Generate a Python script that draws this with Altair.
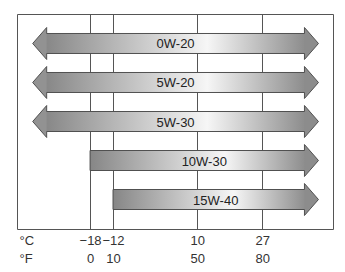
import altair as alt
import pandas as pd

# Data
oils = ["0W-20", "5W-20", "5W-30", "10W-30", "15W-40"]
low_c = [-33, -33, -33, -18, -12]        # left end of each range (°C)
high_c = [41.7, 41.7, 41.7, 41.7, 41.7]  # right end of each range (°C)
left_open = [True, True, True, False, False]
tick_c = [-18, -12, 10, 27]
tick_f = ["0", "10", "50", "80"]

df = pd.DataFrame({"oil": oils, "lo": low_c, "hi": high_c, "open": left_open})

xdom = [-37.1, 45.5]
xs = alt.Scale(domain=xdom, nice=False, zero=False)
ys = alt.Scale(type="point", padding=0.756, domain=oils)

f_expr = " : ".join(
    f"datum.value == {c} ? '{f}'" for c, f in zip(tick_c, tick_f)
) + " : ''"

FONT = "Liberation Sans"

base = alt.Chart(df).transform_calculate(
    body_lo="datum.open ? datum.lo + 2.9 : datum.lo",
    body_hi="datum.hi - 2.9",
    mid="(datum.lo + datum.hi) / 2",
)

grad = alt.Gradient(
    gradient="linear",
    stops=[
        alt.GradientStop(color="#868686", offset=0),
        alt.GradientStop(color="#f6f6f6", offset=0.62),
        alt.GradientStop(color="#8a8a8a", offset=1),
    ],
    x1=0, x2=1, y1=0, y2=0,
)

bodies = base.mark_bar(size=20, fill=grad, stroke="#505050", strokeWidth=1).encode(
    x=alt.X("body_lo:Q", scale=xs, axis=alt.Axis(
        orient="bottom", values=tick_c, grid=True, gridColor="#555555", gridWidth=1,
        domain=False, ticks=False, labelPadding=5, labelFont=FONT,
        labelFontSize=13, labelColor="#333333",
        title="°C", titleX=2, titleY=11, titleAlign="left", titleBaseline="middle",
        titleFont=FONT, titleFontSize=13, titleFontWeight="normal",
        titleColor="#333333", titleAngle=0,
    )),
    x2="body_hi:Q",
    y=alt.Y("oil:N", scale=ys, axis=None),
)

right_path = "M -0.4375 -0.625 L -0.4375 -1 L 0.4375 0 L -0.4375 1 L -0.4375 0.625"
left_path = "M 0.4375 -0.625 L 0.4375 -1 L -0.4375 0 L 0.4375 1 L 0.4375 0.625"

right_heads = base.mark_point(
    shape=right_path, size=1024, filled=True, fill="#8c8c8c", fillOpacity=1,
    stroke="#505050", strokeWidth=1, strokeOpacity=1, opacity=1, xOffset=-7,
).encode(
    x=alt.X("hi:Q", scale=xs, axis=alt.Axis(
        orient="bottom", values=tick_c, grid=False, domain=False, ticks=False,
        offset=18, labelPadding=5, labelFont=FONT, labelFontSize=13,
        labelColor="#333333", labelExpr=f_expr,
        title="°F", titleX=2, titleY=11, titleAlign="left", titleBaseline="middle",
        titleFont=FONT, titleFontSize=13, titleFontWeight="normal",
        titleColor="#333333", titleAngle=0,
    )),
    y=alt.Y("oil:N", scale=ys, axis=None),
)

left_heads = base.transform_filter("datum.open").mark_point(
    shape=left_path, size=1024, filled=True, fill="#929292", fillOpacity=1,
    stroke="#505050", strokeWidth=1, strokeOpacity=1, opacity=1, xOffset=7,
).encode(
    x=alt.X("lo:Q", scale=xs, axis=None),
    y=alt.Y("oil:N", scale=ys, axis=None),
)

labels = base.mark_text(font=FONT, fontSize=13, color="#222222", dy=1).encode(
    x=alt.X("mid:Q", scale=xs, axis=None),
    y=alt.Y("oil:N", scale=ys, axis=None),
    text="oil:N",
)

chart = alt.layer(bodies, right_heads, left_heads, labels).resolve_axis(
    x="independent"
).properties(
    width=316, height=215,
    autosize=alt.AutoSizeParams(type="none"),
    padding={"left": 17, "top": 14, "right": 12, "bottom": 43},
).configure_view(stroke="#555555", strokeWidth=1)

chart.save("out.html", embed_options={"renderer": "svg", "actions": False})
